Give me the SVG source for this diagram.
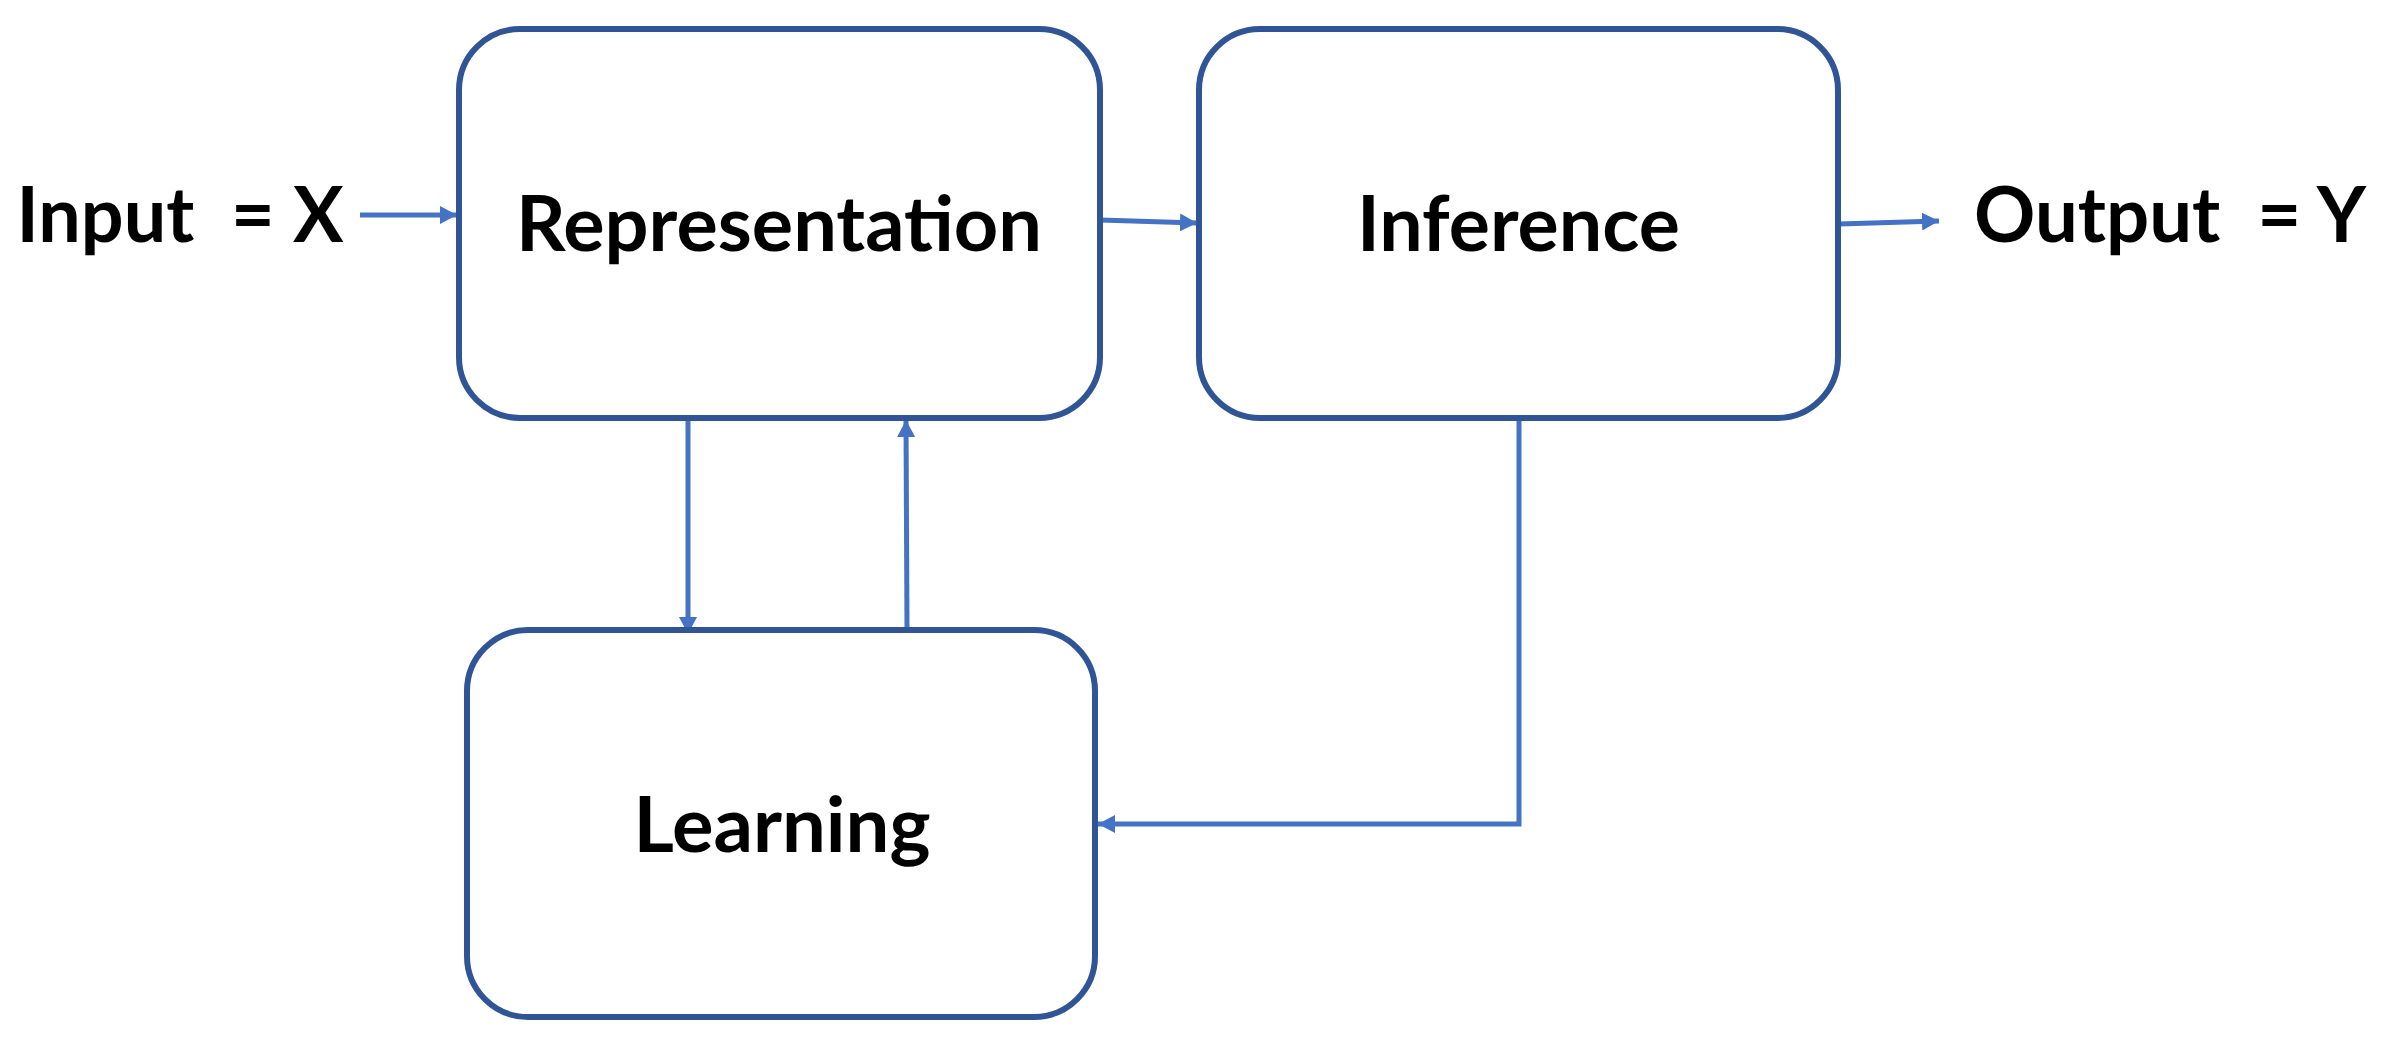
<svg xmlns="http://www.w3.org/2000/svg" width="2393" height="1041" viewBox="0 0 2393 1041">
<style>
.box{fill:#ffffff;stroke:#2F5597;stroke-width:6}
.lbl{font-family:Lato,"Open Sans","Liberation Sans",sans-serif;font-weight:bold;font-size:76px;fill:#000000;text-anchor:middle}
.conn{fill:none;stroke:#4472C4;stroke-width:5}
</style>
<defs>
<marker id="ah" markerUnits="userSpaceOnUse" markerWidth="17" markerHeight="18" refX="17" refY="9" orient="auto">
<path d="M0,0 L17,9 L0,18 z" fill="#4472C4"/>
</marker>
</defs>
<rect width="2393" height="1041" fill="#ffffff"/>
<g id="connectors">
<path class="conn" d="M360,215 L457,215" marker-end="url(#ah)"/>
<path class="conn" d="M1100,220 L1197,223" marker-end="url(#ah)"/>
<path class="conn" d="M1839,224 L1939,221" marker-end="url(#ah)"/>
<path class="conn" d="M688,418 L688,634" marker-end="url(#ah)"/>
<path class="conn" d="M907,629 L906,420" marker-end="url(#ah)"/>
<path class="conn" d="M1519,418 L1519,824 L1098,824" marker-end="url(#ah)"/>
</g>
<g id="input">
<text class="lbl" x="180" y="242" xml:space="preserve" textLength="327" lengthAdjust="spacingAndGlyphs">Input  = X</text>
</g>
<g id="representation">
<rect class="box" x="459" y="29" width="641" height="389" rx="61" ry="61"/>
<text class="lbl" x="779" y="251" textLength="526" lengthAdjust="spacingAndGlyphs">Representation</text>
</g>
<g id="inference">
<rect class="box" x="1199" y="29" width="639" height="389" rx="61" ry="61"/>
<text class="lbl" x="1518.5" y="251" textLength="323" lengthAdjust="spacingAndGlyphs">Inference</text>
</g>
<g id="output">
<text class="lbl" x="2170" y="242" xml:space="preserve" textLength="392" lengthAdjust="spacingAndGlyphs">Output  = Y</text>
</g>
<g id="learning">
<rect class="box" x="467" y="630" width="628" height="387" rx="61" ry="61"/>
<text class="lbl" x="782" y="852" textLength="297" lengthAdjust="spacingAndGlyphs">Learning</text>
</g>
</svg>
